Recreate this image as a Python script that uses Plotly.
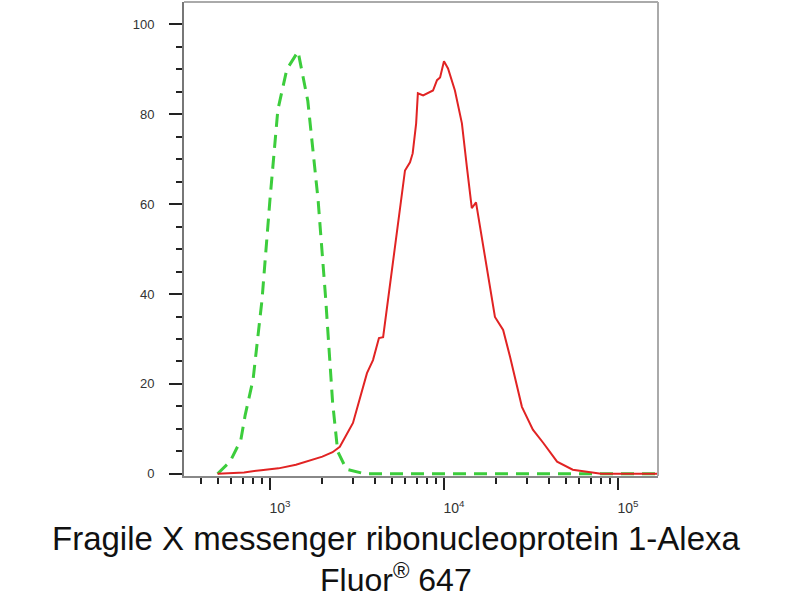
import plotly.graph_objects as go

# Isotype control (green dashed): intensity, % of max
green_x = [500, 590, 680, 720, 800, 900, 1000, 1110, 1250, 1450, 1650, 1890, 2090, 2290, 2450, 2750, 3500, 6000, 15000, 40000, 100000, 170000]
green_y = [0, 2.7, 7.5, 13, 21, 38.7, 61, 81, 90, 94, 83, 61, 39, 16, 5, 1, 0, 0, 0, 0, 0, 0]

# Sample (red solid)
red_x = [500, 710, 890, 1120, 1410, 1660, 2000, 2290, 2520, 3000, 3610, 3910, 4230, 4470, 4700, 5010, 5370, 5700, 5970, 6380, 6610, 6920,
         7080, 7590, 8170, 8650, 9120, 9500, 10000, 10550, 11560, 12680, 13550, 14450, 15280, 16110, 17660, 19630, 21880, 23990,
         28050, 32430, 37150, 44670, 54950, 80000, 170000]
red_y = [0, 0.3, 0.8, 1.2, 2.0, 2.8, 3.8, 4.8, 6, 11.3, 22.4, 25.3, 30.2, 30.4, 37, 44.7, 53.6, 62.4, 67.5, 69.3, 71.3, 78,
         84.7, 84.2, 84.9, 85.3, 87.6, 88.2, 91.8, 90.2, 85.3, 78, 68.2, 59.1, 60.4, 54.9, 46, 34.9, 32, 26,
         14.9, 9.8, 6.9, 2.7, 0.9, 0, 0]

x_major = [1000, 10000, 100000]
x_major_text = ["10<sup>3</sup>", "10<sup>4</sup>", "10<sup>5</sup>"]
x_minor = [400, 500, 600, 700, 800, 900,
           2000, 3000, 4000, 5000, 6000, 7000, 8000, 9000,
           20000, 30000, 40000, 50000, 60000, 70000, 80000, 90000]
y_major = [0, 20, 40, 60, 80, 100]
y_minor = [5, 10, 15, 25, 30, 35, 45, 50, 55, 65, 70, 75, 85, 90, 95]

title_line1 = "Fragile X messenger ribonucleoprotein 1-Alexa"
title_line2 = "Fluor<sup>®</sup> 647"

FONT = "Arial, Liberation Sans, sans-serif"

fig = go.Figure()
fig.add_trace(go.Scatter(x=green_x, y=green_y, mode="lines",
                         line=dict(color="rgb(60,205,60)", width=3, dash="13px,8px"),
                         hoverinfo="skip"))
fig.add_trace(go.Scatter(x=red_x, y=red_y, mode="lines",
                         line=dict(color="rgb(225,35,35)", width=2),
                         hoverinfo="skip"))

fig.update_layout(
    width=800, height=600,
    margin=dict(l=184, r=142, t=2, b=124),
    paper_bgcolor="white", plot_bgcolor="white",
    showlegend=False,
    font=dict(family=FONT, color="#333"),
)
fig.update_xaxes(
    type="log", range=[2.506, 5.23],
    tickvals=x_major, ticktext=x_major_text,
    ticks="outside", ticklen=12, tickwidth=2, tickcolor="#222",
    minor=dict(tickvals=x_minor, ticks="outside", ticklen=6, tickwidth=1.5, tickcolor="#222"),
    showgrid=False, zeroline=False,
    showline=True, linecolor="#888", linewidth=2,
    tickfont=dict(size=14, color="#333"),
    ticklabelshift=10, ticklabelstandoff=6,
)
fig.update_yaxes(
    range=[-0.5, 105],
    tickvals=y_major,
    ticks="outside", ticklen=13, tickwidth=2, tickcolor="#222",
    minor=dict(tickvals=y_minor, ticks="outside", ticklen=6, tickwidth=1.5, tickcolor="#222"),
    showgrid=False, zeroline=False,
    showline=True, linecolor="#777", linewidth=2,
    tickfont=dict(size=13, color="#333"),
    ticklabelstandoff=12,
)
# top and right frame
fig.add_shape(type="line", xref="paper", yref="paper", x0=0, x1=1, y0=1, y1=1,
              line=dict(color="#aaa", width=2))
fig.add_shape(type="line", xref="paper", yref="paper", x0=1, x1=1, y0=0, y1=1,
              line=dict(color="#aaa", width=2))

cx = (396 - 184) / 474
fig.add_annotation(text=title_line1, xref="paper", yref="paper",
                   x=cx, y=(476 - 538) / 474, yanchor="middle", xanchor="center",
                   showarrow=False,
                   font=dict(size=33, color="#111", family=FONT))
fig.add_annotation(text=title_line2, xref="paper", yref="paper",
                   x=cx, y=(476 - 578) / 474, yanchor="middle", xanchor="center",
                   showarrow=False,
                   font=dict(size=32, color="#111", family=FONT))

fig.write_html("out.html", config={"displayModeBar": False},
               post_script="document.body.style.margin='0';document.body.style.overflow='hidden';")
